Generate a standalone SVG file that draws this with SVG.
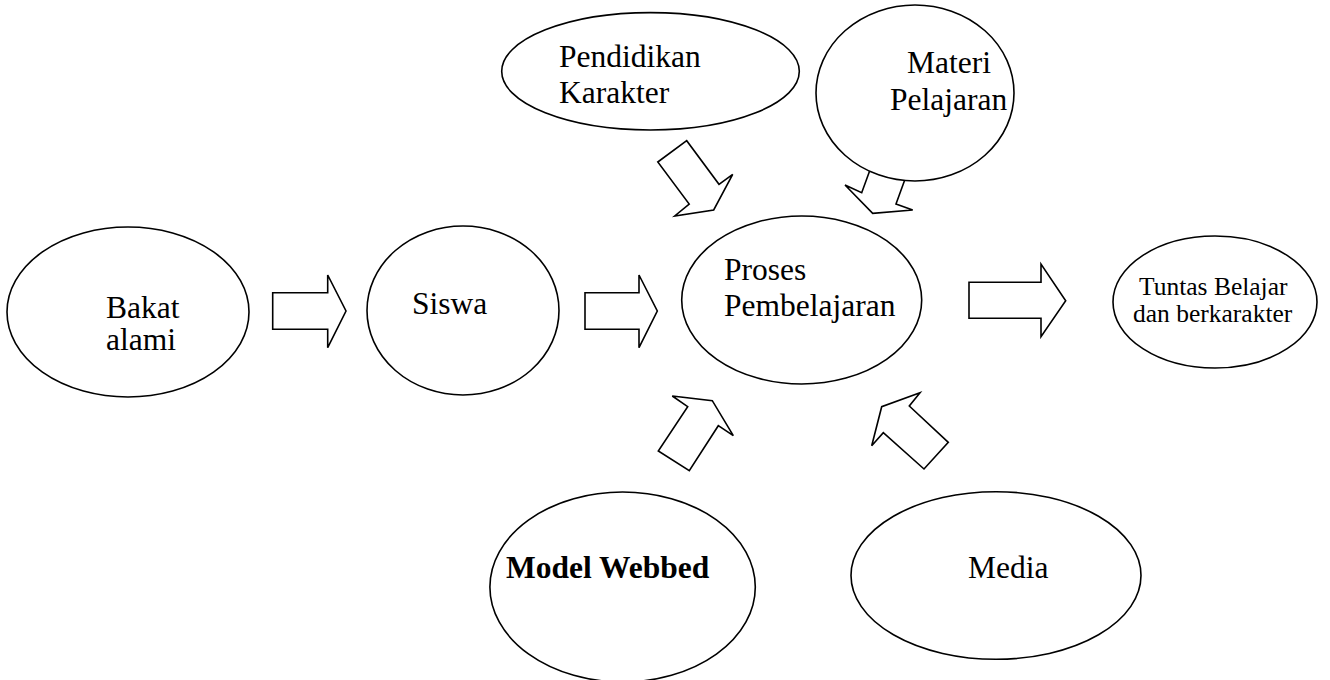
<svg xmlns="http://www.w3.org/2000/svg" width="1330" height="680" viewBox="0 0 1330 680">
<style>
.n{fill:#fff;stroke:#000;stroke-width:1.6}
.a{fill:#fff;stroke:#000;stroke-width:1.6;stroke-linejoin:miter}
.t{font-family:"Liberation Serif","Times New Roman",serif;font-size:31.5px;fill:#000}
.s{font-family:"Liberation Serif","Times New Roman",serif;font-size:25.5px;fill:#000}
.b{font-weight:bold}
</style>
<rect width="1330" height="680" fill="#fff"/>
<g id="connectors">
<polygon class="a" points="272.7,292.7 327.7,292.7 327.7,275 346,311 327.7,347.7 327.7,329.3 272.7,329.3"/>
<polygon class="a" points="585,292.7 639,292.7 639,275 657.3,311 639,347.7 639,329.3 585,329.3"/>
<polygon class="a" points="969,282.3 1041,282.3 1041,264 1065.7,300.7 1041,336.7 1041,318.3 969,318.3"/>
<polygon class="a" points="657.8,162 686.7,140.7 719,184.3 732.7,174.3 713.7,210 674.7,216 689.2,204"/>
<polygon class="a" points="878,148 861.7,192.7 845,185 872.7,213.3 912.7,210 896,204 912,160"/>
<polygon class="a" points="672.3,396 712.3,400.7 733.3,435.7 718.3,425.7 689.3,470.7 658.3,451 687.7,406.7"/>
<polygon class="a" points="920,392.7 909.3,406 948.3,442.3 924,469 883.3,432.7 871.7,445.7 881.7,406.7"/>
</g>
<g id="bakat">
<ellipse class="n" cx="128" cy="312" rx="121" ry="85"/>
<text class="t" x="106" y="318">Bakat</text>
<text class="t" x="106" y="350">alami</text>
</g>
<g id="siswa">
<ellipse class="n" cx="463" cy="310.5" rx="96" ry="84.5"/>
<text class="t" x="412" y="314">Siswa</text>
</g>
<g id="proses">
<ellipse class="n" cx="801.7" cy="300" rx="120" ry="84"/>
<text class="t" x="724" y="280">Proses</text>
<text class="t" x="724" y="316">Pembelajaran</text>
</g>
<g id="tuntas">
<ellipse class="n" cx="1215" cy="302" rx="102" ry="66"/>
<text class="s" x="1139" y="295">Tuntas Belajar</text>
<text class="s" x="1133" y="321.7">dan berkarakter</text>
</g>
<g id="pendidikan">
<ellipse class="n" cx="650.5" cy="71.3" rx="148.8" ry="58.7"/>
<text class="t" x="559" y="67">Pendidikan</text>
<text class="t" x="559" y="103">Karakter</text>
</g>
<g id="materi">
<ellipse class="n" cx="915" cy="93" rx="99" ry="88"/>
<text class="t" x="907" y="73">Materi</text>
<text class="t" x="890" y="110">Pelajaran</text>
</g>
<g id="model-webbed">
<ellipse class="n" cx="622.6" cy="587" rx="132.7" ry="95"/>
<text class="t b" x="506" y="578">Model Webbed</text>
</g>
<g id="media">
<ellipse class="n" cx="996" cy="575.5" rx="145" ry="83.8"/>
<text class="t" x="968" y="578">Media</text>
</g>
</svg>
